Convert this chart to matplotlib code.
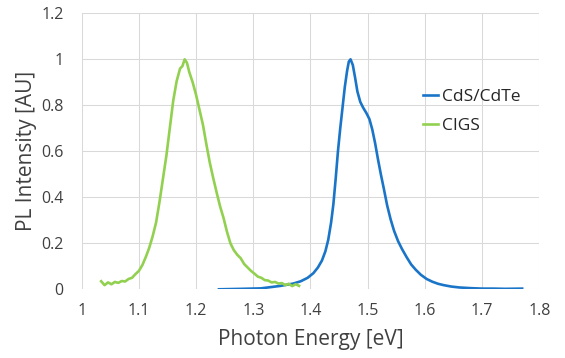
import matplotlib
matplotlib.use("Agg")
import matplotlib.pyplot as plt

# CIGS (green) spectrum
cigs_x = [1.034, 1.040, 1.046, 1.052, 1.058, 1.064, 1.070, 1.076, 1.082, 1.088,
          1.094, 1.100, 1.106, 1.112, 1.118, 1.124, 1.130, 1.136, 1.142, 1.148,
          1.154, 1.160, 1.166, 1.172, 1.176, 1.180, 1.184, 1.188, 1.194, 1.200,
          1.206, 1.212, 1.218, 1.224, 1.230, 1.236, 1.242, 1.248, 1.254, 1.260,
          1.266, 1.272, 1.278, 1.284, 1.290, 1.296, 1.302, 1.308, 1.314, 1.320,
          1.326, 1.332, 1.338, 1.344, 1.350, 1.356, 1.362, 1.368, 1.374, 1.380]
cigs_y = [0.035, 0.018, 0.030, 0.022, 0.032, 0.028, 0.036, 0.034, 0.045, 0.050,
          0.066, 0.080, 0.105, 0.140, 0.180, 0.230, 0.290, 0.380, 0.480, 0.580,
          0.700, 0.820, 0.905, 0.960, 0.970, 1.000, 0.985, 0.945, 0.900, 0.845,
          0.780, 0.715, 0.630, 0.550, 0.483, 0.420, 0.360, 0.310, 0.250, 0.200,
          0.170, 0.150, 0.135, 0.110, 0.095, 0.080, 0.068, 0.055, 0.050, 0.040,
          0.038, 0.030, 0.032, 0.025, 0.027, 0.018, 0.024, 0.014, 0.022, 0.015]

# CdS/CdTe (blue) spectrum
cdte_x = [1.240, 1.280, 1.313, 1.348, 1.370, 1.383, 1.395, 1.405, 1.413, 1.420,
          1.426, 1.431, 1.436, 1.440, 1.444, 1.448, 1.452, 1.456, 1.460, 1.464,
          1.467, 1.470, 1.474, 1.478, 1.482, 1.487, 1.492, 1.498, 1.503, 1.508,
          1.513, 1.518, 1.523, 1.528, 1.534, 1.540, 1.546, 1.553, 1.560, 1.568,
          1.576, 1.584, 1.593, 1.603, 1.613, 1.623, 1.633, 1.646, 1.660, 1.680,
          1.700, 1.720, 1.740, 1.770]
cdte_y = [0.000, 0.002, 0.004, 0.015, 0.025, 0.035, 0.050, 0.070, 0.095, 0.125,
          0.165, 0.215, 0.290, 0.370, 0.480, 0.600, 0.700, 0.790, 0.880, 0.950,
          0.990, 1.000, 0.975, 0.920, 0.860, 0.815, 0.790, 0.765, 0.740, 0.695,
          0.635, 0.565, 0.500, 0.440, 0.365, 0.305, 0.255, 0.210, 0.175, 0.140,
          0.108, 0.085, 0.063, 0.045, 0.033, 0.024, 0.018, 0.012, 0.008, 0.005,
          0.003, 0.003, 0.002, 0.003]

x_ticks = [1.0, 1.1, 1.2, 1.3, 1.4, 1.5, 1.6, 1.7, 1.8]
x_labels = ["1", "1.1", "1.2", "1.3", "1.4", "1.5", "1.6", "1.7", "1.8"]
y_ticks = [0, 0.2, 0.4, 0.6, 0.8, 1.0, 1.2]
y_labels = ["0", "0.2", "0.4", "0.6", "0.8", "1", "1.2"]

plt.rcParams['font.family'] = ['Open Sans', 'DejaVu Sans']
txt = '#404040'

fig = plt.figure(figsize=(5.65, 3.58), dpi=100)
ax = fig.add_axes([0.1446, 0.1919, 0.8099, 0.7709])

ax.plot(cdte_x, cdte_y, color='#1A75C8', lw=1.9, label='CdS/CdTe', zorder=3)
ax.plot(cigs_x, cigs_y, color='#92D050', lw=1.9, label='CIGS', zorder=3)

ax.set_xlim(1.0, 1.8)
ax.set_ylim(0, 1.2)
ax.set_xticks(x_ticks)
ax.set_xticklabels(x_labels)
ax.set_yticks(y_ticks)
ax.set_yticklabels(y_labels)
ax.tick_params(length=0, labelsize=11.5, colors=txt)
ax.tick_params(axis='y', pad=13)
ax.tick_params(axis='x', pad=10)
ax.grid(True, color='#D9D9D9', lw=0.75)
ax.set_axisbelow(True)
for s in ax.spines.values():
    s.set_visible(False)

ax.set_xlabel('Photon Energy [eV]', fontsize=15, color=txt, labelpad=7)
ax.set_ylabel('PL Intensity [AU]', fontsize=15, color=txt, labelpad=3)

leg = ax.legend(loc='center left', bbox_to_anchor=(0.745, 0.645), frameon=False,
                fontsize=12.5, handlelength=0.9, handletextpad=0.2,
                labelspacing=0.75, borderpad=0, borderaxespad=0)
for t in leg.get_texts():
    t.set_color('#262626')

fig.savefig('out.png', dpi=100)
